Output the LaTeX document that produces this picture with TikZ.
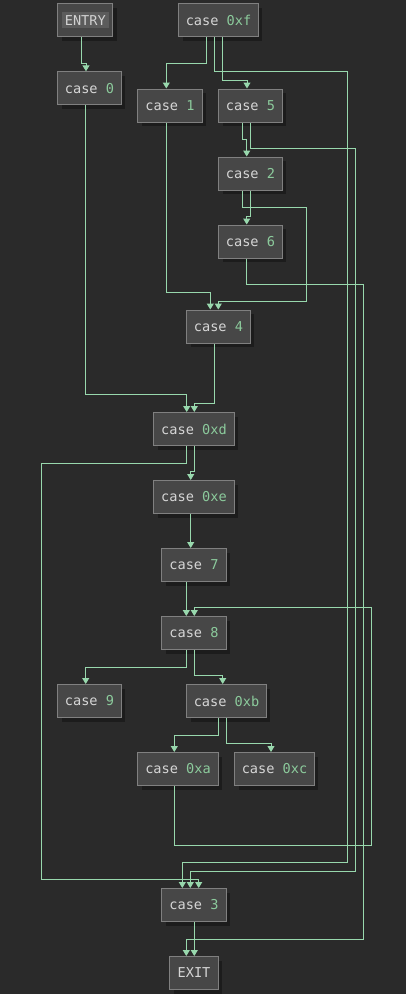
\documentclass[tikz,border=0pt]{standalone}
\usepackage{fontspec}
\setmonofont{DejaVu Sans Mono}
\usetikzlibrary{arrows.meta,shadows}
\definecolor{bgc}{HTML}{2A2A2A}
\definecolor{boxc}{HTML}{474747}
\definecolor{bordc}{HTML}{808080}
\definecolor{txtc}{HTML}{D6D6D6}
\definecolor{numc}{HTML}{8CCB9C}
\definecolor{edgec}{HTML}{98D8AD}
\definecolor{shc}{HTML}{1C1C1C}
\definecolor{hlc}{HTML}{5C5C5C}
\newcommand{\cs}[1]{case \textcolor{numc}{#1}}
\begin{document}
\begin{tikzpicture}[x=1pt,y=1pt,
  blk/.style={draw=bordc, line width=1pt, fill=boxc, inner sep=0pt,
    minimum height=33pt, text=txtc,
    font=\ttfamily\fontsize{13.6}{15}\selectfont,
    drop shadow={shadow xshift=4pt, shadow yshift=-4pt, fill=shc, opacity=1}},
  edge/.style={draw=edgec, line width=1pt, -{Triangle[width=7pt,length=6pt]}}]
\useasboundingbox[fill=bgc] (0,0) rectangle (406,-994);
% nodes
\node[blk, minimum width=55pt] (entry) at (85.3,-20.3) {\setlength\fboxsep{3pt}\colorbox{hlc}{\textcolor{txtc!110}{ENTRY}}};
\node[blk, minimum width=79.4pt] (nxf) at (218.5,-20.3) {\cs{0xf}};
\node[blk, minimum width=63.4pt] (n0) at (89.5,-88.3) {\cs{0}};
\node[blk, minimum width=64.4pt] (n1) at (170,-105.5) {\cs{1}};
\node[blk, minimum width=63.4pt] (n5) at (250.5,-105.5) {\cs{5}};
\node[blk, minimum width=63.4pt] (n2) at (250.5,-173.5) {\cs{2}};
\node[blk, minimum width=63.4pt] (n6) at (250.5,-241.5) {\cs{6}};
\node[blk, minimum width=63.4pt] (n4) at (218.5,-326.5) {\cs{4}};
\node[blk, minimum width=80.4pt] (nd) at (194,-429) {\cs{0xd}};
\node[blk, minimum width=80.4pt] (ne) at (194,-497) {\cs{0xe}};
\node[blk, minimum width=64.4pt] (n7) at (194,-565) {\cs{7}};
\node[blk, minimum width=64.4pt] (n8) at (194,-633) {\cs{8}};
\node[blk, minimum width=63.4pt] (n9) at (89.5,-701) {\cs{9}};
\node[blk, minimum width=79.4pt] (nb) at (226.5,-701) {\cs{0xb}};
\node[blk, minimum width=80.4pt] (na) at (178,-769) {\cs{0xa}};
\node[blk, minimum width=79.4pt] (nc) at (274.5,-769) {\cs{0xc}};
\node[blk, minimum width=64.4pt] (n3) at (194,-905) {\cs{3}};
\node[blk, minimum width=48.4pt] (exit) at (194,-973) {EXIT};
% edges
\draw[edge] (entry.south -| 81.7,0) |- (86,-63.3) -- (n0.north -| 86,0);
\draw[edge] (nxf.south -| 206.7,0) |- (166.3,-63.3) -- (n1.north -| 166.3,0);
\draw[edge] (nxf.south -| 222.3,0) |- (247,-80.3) -- (n5.north -| 247,0);
\draw[edge] (nxf.south -| 214.3,0) |- (347.3,-71.3) |- (182.3,-862.3) -- (n3.north -| 182.3,0);
\draw[edge] (n5.south -| 242.7,0) |- (246.7,-139.3) -- (n2.north -| 246.7,0);
\draw[edge] (n5.south -| 250.3,0) |- (355.3,-148) |- (190.3,-871.3) -- (n3.north -| 190.3,0);
\draw[edge] (n2.south -| 250.3,0) |- (246.7,-216.7) -- (n6.north -| 246.7,0);
\draw[edge] (n2.south -| 242.3,0) |- (306.3,-207.3) |- (218.3,-301.3) -- (n4.north -| 218.3,0);
\draw[edge] (n6.south -| 246.3,0) |- (363.7,-284.3) |- (186.3,-939) -- (exit.north -| 186.3,0);
\draw[edge] (n1.south -| 166.3,0) |- (210.3,-292.3) -- (n4.north -| 210.3,0);
\draw[edge] (n0.south -| 85.7,0) |- (186.7,-394.3) -- (nd.north -| 186.7,0);
\draw[edge] (n4.south -| 214.3,0) |- (194.3,-403.3) -- (nd.north -| 194.3,0);
\draw[edge] (nd.south -| 194.3,0) |- (190.7,-471.3) -- (ne.north -| 190.7,0);
\draw[edge] (nd.south -| 186.7,0) |- (41.7,-463.3) |- (198.7,-879.3) -- (n3.north -| 198.7,0);
\draw[edge] (ne.south -| 190.7,0) -- (n7.north -| 190.7,0);
\draw[edge] (n7.south -| 186.3,0) -- (n8.north -| 186.3,0);
\draw[edge] (na.south -| 174.3,0) |- (371.7,-845.3) |- (194.3,-607.3) -- (n8.north -| 194.3,0);
\draw[edge] (n8.south -| 186.7,0) |- (85.7,-667.3) -- (n9.north -| 85.7,0);
\draw[edge] (n8.south -| 194.3,0) |- (222.7,-675.3) -- (nb.north -| 222.7,0);
\draw[edge] (nb.south -| 218.7,0) |- (174.3,-735.3) -- (na.north -| 174.3,0);
\draw[edge] (nb.south -| 226.3,0) |- (271,-743.3) -- (nc.north -| 271,0);
\draw[edge] (n3.south -| 194.3,0) -- (exit.north -| 194.3,0);
\end{tikzpicture}
\end{document}
